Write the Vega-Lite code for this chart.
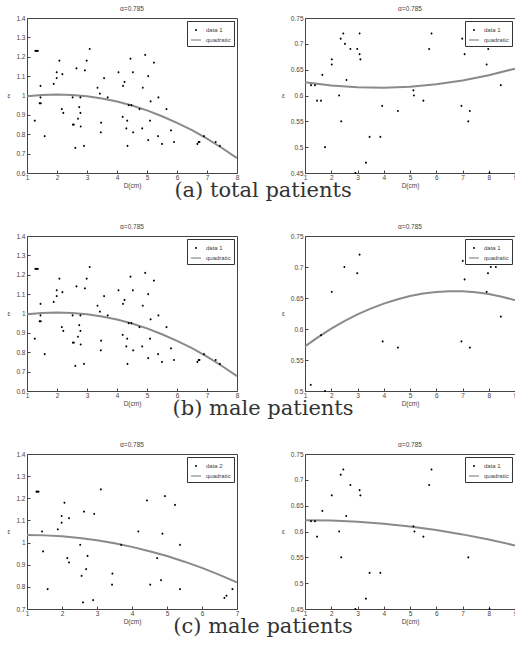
{
  "$schema": "https://vega.github.io/schema/vega-lite/v6.json",
  "padding": {"left": 6, "top": 5, "right": 4, "bottom": 2},
  "background": "white",
  "spacing": 22,
  "config": {
    "font": "Liberation Sans",
    "view": {"stroke": "#444", "strokeWidth": 1},
    "axis": {"labelFontSize": 6.5, "labelColor": "#444", "titleFontSize": 6.5, "titleColor": "#444", "titleFontWeight": "normal", "grid": false, "domain": false, "tickColor": "#444", "tickSize": -3, "labelPadding": 5, "titlePadding": 2, "labelOverlap": false, "labelFlush": false},
    "axisX": {"labelPadding": 4},
    "axisY": {"titleAngle": 0, "titleAlign": "right", "titleBaseline": "middle", "titlePadding": 6},
    "title": {"fontSize": 6.5, "fontWeight": "normal", "color": "#444", "offset": 3, "font": "Liberation Sans"},
    "legend": {"strokeColor": "#333", "fillColor": "white", "padding": 3, "labelFontSize": 6, "labelColor": "#444", "symbolSize": 100, "symbolStrokeWidth": 1.2, "rowPadding": 0, "offset": 3}
  },
  "datasets": {
    "p1": [{"x":1.28,"y":1.23},{"x":1.32,"y":1.23},{"x":1.36,"y":1.23},{"x":1.26,"y":0.87},{"x":1.45,"y":1.05},{"x":1.45,"y":0.99},{"x":1.42,"y":0.96},{"x":1.46,"y":0.96},{"x":1.59,"y":0.79},{"x":1.89,"y":1.06},{"x":1.99,"y":1.12},{"x":1.99,"y":1.09},{"x":2.08,"y":1.18},{"x":2.18,"y":1.11},{"x":2.16,"y":0.93},{"x":2.21,"y":0.91},{"x":2.52,"y":0.99},{"x":2.53,"y":0.85},{"x":2.56,"y":0.85},{"x":2.61,"y":0.73},{"x":2.65,"y":1.14},{"x":2.70,"y":0.88},{"x":2.74,"y":0.94},{"x":2.78,"y":0.99},{"x":2.78,"y":0.91},{"x":2.79,"y":0.84},{"x":2.90,"y":0.74},{"x":2.93,"y":1.13},{"x":2.99,"y":1.18},{"x":3.09,"y":1.24},{"x":3.35,"y":1.04},{"x":3.43,"y":1.01},{"x":3.47,"y":0.86},{"x":3.46,"y":0.81},{"x":3.57,"y":1.09},{"x":3.69,"y":0.99},{"x":4.05,"y":1.12},{"x":4.20,"y":1.05},{"x":4.25,"y":1.07},{"x":4.19,"y":0.89},{"x":4.31,"y":0.83},{"x":4.34,"y":0.87},{"x":4.35,"y":0.74},{"x":4.39,"y":0.95},{"x":4.48,"y":0.95},{"x":4.45,"y":1.19},{"x":4.53,"y":1.12},{"x":4.54,"y":0.81},{"x":4.75,"y":0.93},{"x":4.86,"y":1.04},{"x":4.84,"y":0.83},{"x":4.94,"y":1.21},{"x":5.04,"y":1.10},{"x":5.04,"y":0.77},{"x":5.12,"y":0.97},{"x":5.10,"y":0.87},{"x":5.23,"y":1.17},{"x":5.38,"y":0.99},{"x":5.37,"y":0.79},{"x":5.50,"y":0.75},{"x":5.65,"y":0.93},{"x":5.80,"y":0.82},{"x":5.90,"y":0.76},{"x":6.68,"y":0.75},{"x":6.72,"y":0.76},{"x":6.75,"y":0.76},{"x":6.90,"y":0.79},{"x":7.29,"y":0.76},{"x":7.43,"y":0.74}],
    "c1": [{"x":1,"y":0.996},{"x":1.5,"y":1.003},{"x":2,"y":1.005},{"x":2.5,"y":1.003},{"x":3,"y":0.996},{"x":3.5,"y":0.985},{"x":4,"y":0.969},{"x":4.5,"y":0.948},{"x":5,"y":0.923},{"x":5.5,"y":0.893},{"x":6,"y":0.859},{"x":6.5,"y":0.821},{"x":7,"y":0.777},{"x":7.5,"y":0.729},{"x":8,"y":0.677}],
    "p2": [{"x":1.23,"y":0.62},{"x":1.38,"y":0.62},{"x":1.46,"y":0.59},{"x":1.61,"y":0.59},{"x":1.66,"y":0.64},{"x":1.76,"y":0.50},{"x":2.02,"y":0.67},{"x":2.02,"y":0.66},{"x":2.30,"y":0.60},{"x":2.36,"y":0.71},{"x":2.38,"y":0.55},{"x":2.46,"y":0.72},{"x":2.52,"y":0.70},{"x":2.58,"y":0.63},{"x":2.73,"y":0.69},{"x":2.92,"y":0.45},{"x":2.99,"y":0.69},{"x":3.08,"y":0.72},{"x":3.08,"y":0.68},{"x":3.11,"y":0.67},{"x":3.32,"y":0.47},{"x":3.46,"y":0.52},{"x":3.87,"y":0.52},{"x":3.94,"y":0.58},{"x":4.54,"y":0.57},{"x":5.13,"y":0.61},{"x":5.15,"y":0.60},{"x":5.51,"y":0.59},{"x":5.73,"y":0.69},{"x":5.82,"y":0.72},{"x":6.96,"y":0.58},{"x":6.99,"y":0.71},{"x":7.08,"y":0.68},{"x":7.22,"y":0.55},{"x":7.28,"y":0.57},{"x":7.78,"y":0.70},{"x":7.92,"y":0.66},{"x":7.98,"y":0.69},{"x":8.07,"y":0.70},{"x":8.03,"y":0.45},{"x":8.27,"y":0.70},{"x":8.46,"y":0.62}],
    "c2": [{"x":1,"y":0.6257},{"x":2,"y":0.6194},{"x":3,"y":0.6159},{"x":4,"y":0.6151},{"x":5,"y":0.6170},{"x":6,"y":0.6216},{"x":7,"y":0.6290},{"x":8,"y":0.6392},{"x":9,"y":0.6520}],
    "p4": [{"x":1.22,"y":0.51},{"x":1.61,"y":0.59},{"x":1.76,"y":0.50},{"x":2.02,"y":0.66},{"x":2.50,"y":0.70},{"x":2.99,"y":0.69},{"x":3.08,"y":0.72},{"x":3.96,"y":0.58},{"x":4.54,"y":0.57},{"x":6.96,"y":0.58},{"x":7.01,"y":0.71},{"x":7.08,"y":0.68},{"x":7.28,"y":0.57},{"x":7.92,"y":0.66},{"x":7.97,"y":0.69},{"x":8.08,"y":0.70},{"x":8.27,"y":0.70},{"x":8.46,"y":0.62}],
    "c4": [{"x":1,"y":0.5720},{"x":1.5,"y":0.5869},{"x":2,"y":0.6005},{"x":2.5,"y":0.6127},{"x":3,"y":0.6235},{"x":3.5,"y":0.6329},{"x":4,"y":0.6410},{"x":4.5,"y":0.6477},{"x":5,"y":0.6531},{"x":5.5,"y":0.6571},{"x":6,"y":0.6597},{"x":6.5,"y":0.6609},{"x":7,"y":0.6608},{"x":7.5,"y":0.6592},{"x":8,"y":0.6564},{"x":8.5,"y":0.6521},{"x":9,"y":0.6465}],
    "p5": [{"x":1.27,"y":1.23},{"x":1.30,"y":1.23},{"x":1.33,"y":1.23},{"x":1.43,"y":1.05},{"x":1.46,"y":0.96},{"x":1.59,"y":0.79},{"x":1.88,"y":1.06},{"x":1.99,"y":1.12},{"x":1.99,"y":1.09},{"x":2.07,"y":1.18},{"x":2.20,"y":1.11},{"x":2.15,"y":0.93},{"x":2.20,"y":0.91},{"x":2.52,"y":0.99},{"x":2.56,"y":0.85},{"x":2.60,"y":0.73},{"x":2.63,"y":1.14},{"x":2.69,"y":0.88},{"x":2.73,"y":0.94},{"x":2.89,"y":0.74},{"x":2.92,"y":1.13},{"x":3.11,"y":1.24},{"x":3.44,"y":0.86},{"x":3.43,"y":0.81},{"x":3.69,"y":0.99},{"x":4.18,"y":1.05},{"x":4.43,"y":1.19},{"x":4.52,"y":0.81},{"x":4.72,"y":0.93},{"x":4.87,"y":1.04},{"x":4.83,"y":0.83},{"x":4.94,"y":1.21},{"x":5.23,"y":1.17},{"x":5.37,"y":0.99},{"x":5.37,"y":0.79},{"x":6.64,"y":0.75},{"x":6.70,"y":0.76},{"x":6.87,"y":0.79}],
    "c5": [{"x":1,"y":1.034},{"x":1.5,"y":1.0325},{"x":2,"y":1.0281},{"x":2.5,"y":1.0206},{"x":3,"y":1.0102},{"x":3.5,"y":0.9969},{"x":4,"y":0.9805},{"x":4.5,"y":0.9612},{"x":5,"y":0.9390},{"x":5.5,"y":0.9137},{"x":6,"y":0.8855},{"x":6.5,"y":0.8543},{"x":7,"y":0.8202}],
    "p6": [{"x":1.23,"y":0.62},{"x":1.38,"y":0.62},{"x":1.46,"y":0.59},{"x":1.66,"y":0.64},{"x":2.02,"y":0.67},{"x":2.30,"y":0.60},{"x":2.36,"y":0.71},{"x":2.38,"y":0.55},{"x":2.46,"y":0.72},{"x":2.57,"y":0.63},{"x":2.73,"y":0.69},{"x":2.92,"y":0.45},{"x":3.08,"y":0.68},{"x":3.11,"y":0.67},{"x":3.32,"y":0.47},{"x":3.46,"y":0.52},{"x":3.87,"y":0.52},{"x":5.13,"y":0.61},{"x":5.17,"y":0.60},{"x":5.51,"y":0.59},{"x":5.73,"y":0.69},{"x":5.82,"y":0.72},{"x":7.22,"y":0.55},{"x":7.78,"y":0.70},{"x":8.03,"y":0.45}],
    "c6": [{"x":1,"y":0.622},{"x":2,"y":0.6212},{"x":3,"y":0.6189},{"x":4,"y":0.6151},{"x":5,"y":0.6097},{"x":6,"y":0.6029},{"x":7,"y":0.5944},{"x":8,"y":0.5845},{"x":9,"y":0.5730}]
  },
  "vconcat": [
    {
      "title": {"text": "(a) total patients", "orient": "bottom", "anchor": "middle", "font": "DejaVu Serif", "fontSize": 21, "color": "#333", "offset": -10},
      "spacing": 38,
      "resolve": {"scale": {"color": "independent", "shape": "independent"}},
      "hconcat": [
        {
          "width": 210, "height": 155, "title": "α=0.785",
          "encoding": {
            "x": {"field": "x", "type": "quantitative", "scale": {"domain": [1, 8]}, "axis": {"values": [1,2,3,4,5,6,7,8], "title": "D(cm)"}},
            "y": {"field": "y", "type": "quantitative", "scale": {"domain": [0.6, 1.4]}, "axis": {"values": [0.6,0.7,0.8,0.9,1,1.1,1.2,1.3,1.4], "format": "~g", "title": "ε"}}
          },
          "layer": [
            {"data": {"name": "c1"}, "mark": {"type": "line", "color": "#8a8a8a", "strokeWidth": 2}, "encoding": {}},
            {"data": {"name": "p1"}, "mark": {"type": "point", "filled": false, "size": 100, "strokeWidth": 1.2, "opacity": 1},
             "encoding": {
               "color": {"datum": "data 1", "type": "nominal", "scale": {"domain": ["data 1", "quadratic"], "range": ["black", "#8a8a8a"]}, "legend": {"orient": "top-right", "title": null}},
               "shape": {"datum": "data 1", "type": "nominal", "scale": {"domain": ["data 1", "quadratic"], "range": ["M-0.18,0H0.18M0,-0.18V0.18M-0.13,-0.13L0.13,0.13M-0.13,0.13L0.13,-0.13", "stroke"]}, "legend": {"orient": "top-right", "title": null}}}}
          ]
        },
        {
          "width": 210, "height": 155, "title": "α=0.785",
          "encoding": {
            "x": {"field": "x", "type": "quantitative", "scale": {"domain": [1, 9]}, "axis": {"values": [1,2,3,4,5,6,7,8,9], "title": "D(cm)"}},
            "y": {"field": "y", "type": "quantitative", "scale": {"domain": [0.45, 0.75]}, "axis": {"values": [0.45,0.5,0.55,0.6,0.65,0.7,0.75], "format": "~g", "title": "ε"}}
          },
          "layer": [
            {"data": {"name": "c2"}, "mark": {"type": "line", "color": "#8a8a8a", "strokeWidth": 2}, "encoding": {}},
            {"data": {"name": "p2"}, "mark": {"type": "point", "filled": false, "size": 100, "strokeWidth": 1.2, "opacity": 1},
             "encoding": {
               "color": {"datum": "data 1", "type": "nominal", "scale": {"domain": ["data 1", "quadratic"], "range": ["black", "#8a8a8a"]}, "legend": {"orient": "top-right", "title": null}},
               "shape": {"datum": "data 1", "type": "nominal", "scale": {"domain": ["data 1", "quadratic"], "range": ["M-0.18,0H0.18M0,-0.18V0.18M-0.13,-0.13L0.13,0.13M-0.13,0.13L0.13,-0.13", "stroke"]}, "legend": {"orient": "top-right", "title": null}}}}
          ]
        }
      ]
    },
    {
      "title": {"text": "(b) male patients", "orient": "bottom", "anchor": "middle", "font": "DejaVu Serif", "fontSize": 21, "color": "#333", "offset": -10},
      "spacing": 38,
      "resolve": {"scale": {"color": "independent", "shape": "independent"}},
      "hconcat": [
        {
          "width": 210, "height": 155, "title": "α=0.785",
          "encoding": {
            "x": {"field": "x", "type": "quantitative", "scale": {"domain": [1, 8]}, "axis": {"values": [1,2,3,4,5,6,7,8], "title": "D(cm)"}},
            "y": {"field": "y", "type": "quantitative", "scale": {"domain": [0.6, 1.4]}, "axis": {"values": [0.6,0.7,0.8,0.9,1,1.1,1.2,1.3,1.4], "format": "~g", "title": "ε"}}
          },
          "layer": [
            {"data": {"name": "c1"}, "mark": {"type": "line", "color": "#8a8a8a", "strokeWidth": 2}, "encoding": {}},
            {"data": {"name": "p1"}, "mark": {"type": "point", "filled": false, "size": 100, "strokeWidth": 1.2, "opacity": 1},
             "encoding": {
               "color": {"datum": "data 1", "type": "nominal", "scale": {"domain": ["data 1", "quadratic"], "range": ["black", "#8a8a8a"]}, "legend": {"orient": "top-right", "title": null}},
               "shape": {"datum": "data 1", "type": "nominal", "scale": {"domain": ["data 1", "quadratic"], "range": ["M-0.18,0H0.18M0,-0.18V0.18M-0.13,-0.13L0.13,0.13M-0.13,0.13L0.13,-0.13", "stroke"]}, "legend": {"orient": "top-right", "title": null}}}}
          ]
        },
        {
          "width": 210, "height": 155, "title": "α=0.785",
          "encoding": {
            "x": {"field": "x", "type": "quantitative", "scale": {"domain": [1, 9]}, "axis": {"values": [1,2,3,4,5,6,7,8,9], "title": "D(cm)"}},
            "y": {"field": "y", "type": "quantitative", "scale": {"domain": [0.5, 0.75]}, "axis": {"values": [0.5,0.55,0.6,0.65,0.7,0.75], "format": "~g", "title": "ε"}}
          },
          "layer": [
            {"data": {"name": "c4"}, "mark": {"type": "line", "color": "#8a8a8a", "strokeWidth": 2}, "encoding": {}},
            {"data": {"name": "p4"}, "mark": {"type": "point", "filled": false, "size": 100, "strokeWidth": 1.2, "opacity": 1},
             "encoding": {
               "color": {"datum": "data 1", "type": "nominal", "scale": {"domain": ["data 1", "quadratic"], "range": ["black", "#8a8a8a"]}, "legend": {"orient": "top-right", "title": null}},
               "shape": {"datum": "data 1", "type": "nominal", "scale": {"domain": ["data 1", "quadratic"], "range": ["M-0.18,0H0.18M0,-0.18V0.18M-0.13,-0.13L0.13,0.13M-0.13,0.13L0.13,-0.13", "stroke"]}, "legend": {"orient": "top-right", "title": null}}}}
          ]
        }
      ]
    },
    {
      "title": {"text": "(c) male patients", "orient": "bottom", "anchor": "middle", "font": "DejaVu Serif", "fontSize": 21, "color": "#333", "offset": -10},
      "spacing": 38,
      "resolve": {"scale": {"color": "independent", "shape": "independent"}},
      "hconcat": [
        {
          "width": 210, "height": 155, "title": "α=0.785",
          "encoding": {
            "x": {"field": "x", "type": "quantitative", "scale": {"domain": [1, 7]}, "axis": {"values": [1,2,3,4,5,6,7], "title": "D(cm)"}},
            "y": {"field": "y", "type": "quantitative", "scale": {"domain": [0.7, 1.4]}, "axis": {"values": [0.7,0.8,0.9,1,1.1,1.2,1.3,1.4], "format": "~g", "title": "ε"}}
          },
          "layer": [
            {"data": {"name": "c5"}, "mark": {"type": "line", "color": "#8a8a8a", "strokeWidth": 2}, "encoding": {}},
            {"data": {"name": "p5"}, "mark": {"type": "point", "filled": false, "size": 100, "strokeWidth": 1.2, "opacity": 1},
             "encoding": {
               "color": {"datum": "data 2", "type": "nominal", "scale": {"domain": ["data 2", "quadratic"], "range": ["black", "#8a8a8a"]}, "legend": {"orient": "top-right", "title": null}},
               "shape": {"datum": "data 2", "type": "nominal", "scale": {"domain": ["data 2", "quadratic"], "range": ["M-0.18,0H0.18M0,-0.18V0.18M-0.13,-0.13L0.13,0.13M-0.13,0.13L0.13,-0.13", "stroke"]}, "legend": {"orient": "top-right", "title": null}}}}
          ]
        },
        {
          "width": 210, "height": 155, "title": "α=0.785",
          "encoding": {
            "x": {"field": "x", "type": "quantitative", "scale": {"domain": [1, 9]}, "axis": {"values": [1,2,3,4,5,6,7,8,9], "title": "D(cm)"}},
            "y": {"field": "y", "type": "quantitative", "scale": {"domain": [0.45, 0.75]}, "axis": {"values": [0.45,0.5,0.55,0.6,0.65,0.7,0.75], "format": "~g", "title": "ε"}}
          },
          "layer": [
            {"data": {"name": "c6"}, "mark": {"type": "line", "color": "#8a8a8a", "strokeWidth": 2}, "encoding": {}},
            {"data": {"name": "p6"}, "mark": {"type": "point", "filled": false, "size": 100, "strokeWidth": 1.2, "opacity": 1},
             "encoding": {
               "color": {"datum": "data 1", "type": "nominal", "scale": {"domain": ["data 1", "quadratic"], "range": ["black", "#8a8a8a"]}, "legend": {"orient": "top-right", "title": null}},
               "shape": {"datum": "data 1", "type": "nominal", "scale": {"domain": ["data 1", "quadratic"], "range": ["M-0.18,0H0.18M0,-0.18V0.18M-0.13,-0.13L0.13,0.13M-0.13,0.13L0.13,-0.13", "stroke"]}, "legend": {"orient": "top-right", "title": null}}}}
          ]
        }
      ]
    }
  ],
  "resolve": {"scale": {"color": "independent", "shape": "independent"}}
}
